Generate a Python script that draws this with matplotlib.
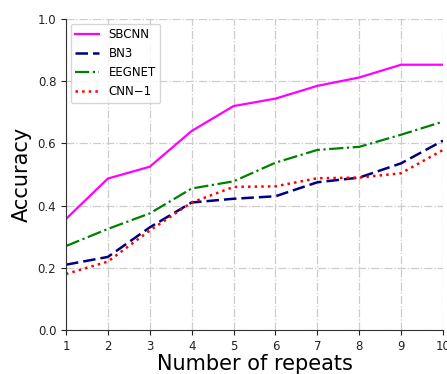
import matplotlib
matplotlib.use("Agg")
import matplotlib.pyplot as plt

repeats = [1, 2, 3, 4, 5, 6, 7, 8, 9, 10]
sbcnn = [0.357, 0.487, 0.525, 0.640, 0.720, 0.744, 0.785, 0.812, 0.853, 0.853]
bn3 = [0.210, 0.235, 0.330, 0.410, 0.422, 0.430, 0.475, 0.490, 0.536, 0.609]
eegnet = [0.270, 0.325, 0.375, 0.455, 0.478, 0.538, 0.579, 0.589, 0.628, 0.670]
cnn1 = [0.180, 0.220, 0.320, 0.410, 0.460, 0.462, 0.488, 0.490, 0.504, 0.579]
yticks = [0.0, 0.2, 0.4, 0.6, 0.8, 1.0]

fig = plt.figure(figsize=(4.47, 3.74), dpi=100)
ax = fig.add_axes([66/447, 1-330/374, 377/447, 311/374])

ax.plot(repeats, sbcnn, color='#ff00ff', linestyle='-', linewidth=1.6, label='SBCNN')
ax.plot(repeats, bn3, color='#000080', linestyle=(0, (5, 2)), linewidth=1.8, label='BN3')
ax.plot(repeats, eegnet, color='#008000', linestyle='-.', linewidth=1.6, label='EEGNET')
ax.plot(repeats, cnn1, color='#ff0000', linestyle=':', linewidth=1.8, label='CNN\u22121')

ax.set_xlim(1, 10)
ax.set_ylim(0, 1.0)
ax.set_xticks(repeats)
ax.set_yticks(yticks)
ax.tick_params(labelsize=8.5, colors='#222222')
ax.grid(True, linestyle='-.', color='#cccccc', linewidth=0.9)
ax.spines['top'].set_visible(False)
ax.spines['right'].set_visible(False)
ax.spines['left'].set_color('#333333')
ax.spines['bottom'].set_color('#333333')
ax.set_xlabel('Number of repeats', fontsize=15, labelpad=1)
ax.set_ylabel('Accuracy', fontsize=15, labelpad=4)
ax.legend(loc='upper left', fontsize=8.5, borderaxespad=0.4)

fig.savefig('out.png', dpi=100)
